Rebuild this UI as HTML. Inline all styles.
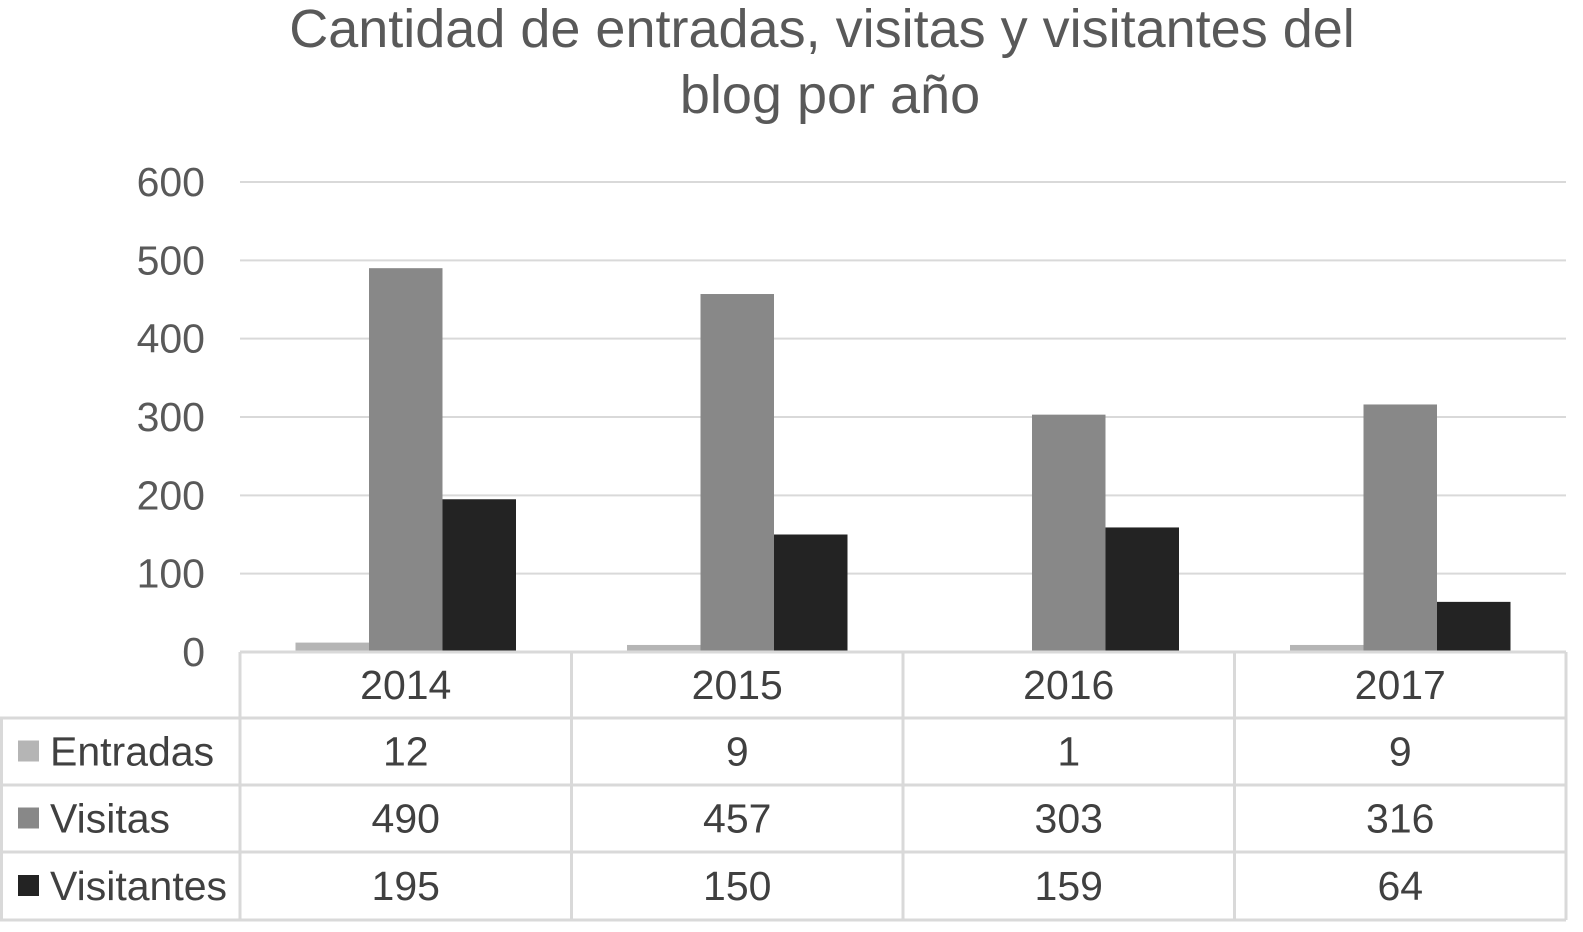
<!DOCTYPE html>
<html><head><meta charset="utf-8"><style>
html,body{margin:0;padding:0;background:#fff;}
svg{display:block;font-family:"Liberation Sans",Arial,sans-serif;}
</style></head><body>
<svg id="chart" width="1583" height="932" viewBox="0 0 1583 932" xmlns="http://www.w3.org/2000/svg">
<text x="822" y="47" text-anchor="middle" font-size="54" fill="#595959">Cantidad de entradas, visitas y visitantes del</text>
<text x="830" y="113" text-anchor="middle" font-size="54" fill="#595959">blog por año</text>
<g id="grid"></g><g id="bars"></g><g id="table"></g>
</svg>
<script>
const categories = ["2014","2015","2016","2017"];
const seriesNames = ["Entradas","Visitas","Visitantes"];
const entradas = [12,9,1,9];
const visitas = [490,457,303,316];
const visitantes = [195,150,159,64];
const yTicks = [0,100,200,300,400,500,600];

const NS="http://www.w3.org/2000/svg";
const colors=["#b5b5b5","#888888","#232323"];
const series=[entradas,visitas,visitantes];
const X0=240,X1=1566,Y0=652,Y1=182,YMAX=600;
const FS=41;
const catW=(X1-X0)/categories.length;
const barW=73.5;
const y=v=>Y0-(v/YMAX)*(Y0-Y1);
const xCat=i=>X0+i*catW;
function mk(tag,attrs,parent){const e=document.createElementNS(NS,tag);for(const k in attrs)e.setAttribute(k,attrs[k]);parent.appendChild(e);return e;}
const grid=document.getElementById('grid'),bars=document.getElementById('bars'),table=document.getElementById('table');
yTicks.forEach(t=>{
  if(t>0){const l=mk('line',{x1:X0,x2:X1,y1:y(t),y2:y(t),stroke:'#d9d9d9','stroke-width':2},grid);
  
  }
  const tx=mk('text',{x:205,y:y(t)+14,'text-anchor':'end','font-size':FS,fill:'#595959'},grid);
  tx.textContent=t;
  
  
});
series.forEach((s,si)=>{
  s.forEach((v,i)=>{
    const bx=xCat(i)+(catW-3*barW)/2+si*barW;
    const r=mk('rect',{x:bx,y:y(v),width:barW,height:Y0-y(v),fill:colors[si]},bars);
    
    
  });
});
const rowsY=[652,718,785,852,920];
const tc='#d9d9d9';
mk('line',{x1:X0,x2:X1,y1:652,y2:652,stroke:tc,'stroke-width':3},table);
for(let r=1;r<rowsY.length;r++){mk('line',{x1:0,x2:X1,y1:rowsY[r],y2:rowsY[r],stroke:tc,'stroke-width':3},table);}
mk('line',{x1:1.5,x2:1.5,y1:718,y2:920,stroke:tc,'stroke-width':3},table);
for(let i=0;i<=categories.length;i++){mk('line',{x1:xCat(i),x2:xCat(i),y1:652,y2:920,stroke:tc,'stroke-width':3},table);}
categories.forEach((c,i)=>{
  const t=mk('text',{x:xCat(i)+catW/2,y:699,'text-anchor':'middle','font-size':FS,fill:'#404040'},table);
  t.textContent=c;
  
  
});
series.forEach((s,si)=>{
  const cy=(rowsY[si+1]+rowsY[si+2])/2;
  const sw=mk('rect',{x:18,y:cy-11,width:21,height:21,fill:colors[si]},table);
  
  
  const lt=mk('text',{x:50,y:cy+14,'font-size':FS,fill:'#404040'},table);
  lt.textContent=seriesNames[si];
  
  
  s.forEach((v,i)=>{
    const t=mk('text',{x:xCat(i)+catW/2,y:cy+14,'text-anchor':'middle','font-size':FS,fill:'#404040'},table);
    t.textContent=v;
    
    
  });
});
</script>
</body></html>
